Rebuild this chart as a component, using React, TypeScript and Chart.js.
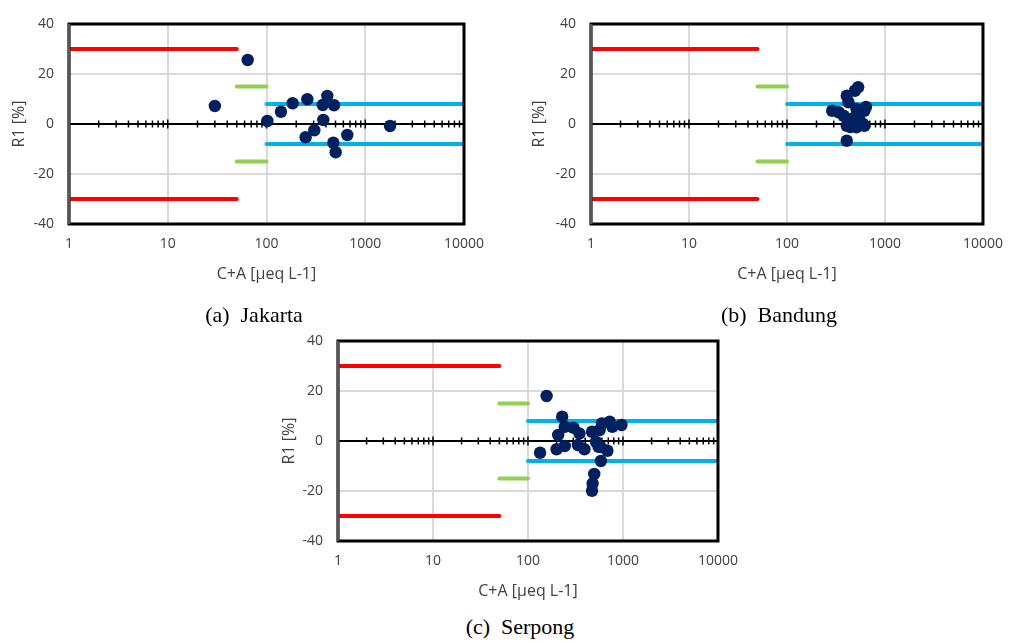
import React, { useEffect, useRef } from "react";
import { Chart, registerables } from "chart.js";

Chart.register(...registerables);

// ---- axis ticks ----
const X_TICKS = [1, 10, 100, 1000, 10000];
const Y_MIN = -40;
const Y_MAX = 40;
const Y_STEP = 20;

// ---- acceptance limits ----
const RED_X = [1, 50];
const RED_LIMIT = 30;
const GREEN_X = [50, 100];
const GREEN_LIMIT = 15;
const BLUE_X = [100, 10000];
const BLUE_LIMIT = 8;

// ---- data ----
const JAKARTA_X = [64.5, 30, 102, 140, 184, 259, 413, 371, 483, 376, 305, 249, 475, 502, 658, 1782];
const JAKARTA_Y = [25.6, 7.2, 1.2, 4.9, 8.3, 9.9, 11.2, 7.6, 7.5, 1.6, -2.5, -5.3, -7.5, -11.3, -4.4, -0.8];

const BANDUNG_X = [532, 493, 424, 407, 289, 337, 553, 616, 457, 407, 512, 617, 407, 493, 553, 512, 378, 640, 597, 443];
const BANDUNG_Y = [14.7, 13.3, 8.7, 11.3, 5.3, 4.7, 4.7, 5.3, 2, -0.7, -1.3, -0.7, -6.7, 2.7, 1.3, 6, 3.3, 6.8, 0, -1.2];

const SERPONG_X = [157, 229, 134, 200, 244, 208, 244, 302, 348, 335, 393, 472, 519, 553, 686, 585, 599, 724, 772, 964, 498, 479, 472, 568, 582];
const SERPONG_Y = [18, 9.7, -4.7, -3.3, -2, 2.4, 5.7, 5.3, 3, -1.6, -3.3, 3.7, -0.3, -2.3, -3.9, -8, 7, 7.7, 5.7, 6.4, -13.2, -17, -19.9, 4.4, -2.4];

const COLORS = {
  red: "#ff0000",
  green: "#92d050",
  blue: "#00b0f0",
  point: "#002060",
  grid: "#d9d9d9",
  text: "#404040",
};

const FONT = "'Open Sans', 'DejaVu Sans', sans-serif";

const excelAxisPlugin = {
  id: "excelAxis",
  beforeDatasetsDraw(chart: any) {
    const { ctx, chartArea, scales } = chart;
    const { left, right } = chartArea;
    const x = scales.x;
    const y = scales.y;
    const y0 = y.getPixelForValue(0);
    ctx.save();
    ctx.strokeStyle = "#000";
    ctx.lineWidth = 2;
    ctx.beginPath();
    ctx.moveTo(left, y0);
    ctx.lineTo(right, y0);
    ctx.stroke();
    ctx.lineWidth = 1.5;
    for (let d = 1; d <= 10000; d *= 10) {
      for (let k = 1; k <= 9; k++) {
        const v = k * d;
        if (v > 10000) break;
        const px = x.getPixelForValue(v);
        const h = k === 1 ? 4.5 : 3.5;
        ctx.beginPath();
        ctx.moveTo(px, y0 - h);
        ctx.lineTo(px, y0 + h);
        ctx.stroke();
      }
    }
    ctx.restore();
  },
  afterDraw(chart: any) {
    const { ctx, chartArea } = chart;
    const { left, right, top, bottom } = chartArea;
    ctx.save();
    ctx.strokeStyle = "#000";
    ctx.lineWidth = 3;
    ctx.strokeRect(left, top, right - left, bottom - top);
    ctx.strokeStyle = "#555";
    ctx.beginPath();
    ctx.moveTo(left, top);
    ctx.lineTo(left, bottom);
    ctx.stroke();
    ctx.restore();
  },
};

type PanelProps = {
  xs: number[];
  ys: number[];
  left: number;
  top: number;
  width: number;
  height: number;
  yAxisWidth: number;
  padTop: number;
  padRight: number;
};

function ScatterPanel(props: PanelProps) {
  const ref = useRef<HTMLCanvasElement | null>(null);
  const { xs, ys, left, top, width, height, yAxisWidth, padTop, padRight } = props;

  useEffect(() => {
    if (!ref.current) return;
    const pts = xs.map((x, i) => ({ x, y: ys[i] }));
    const seg = (xr: number[], yv: number) => xr.map((x) => ({ x, y: yv }));
    const lineDs = (data: any[], color: string) => ({
      data,
      showLine: true,
      borderColor: color,
      backgroundColor: color,
      borderWidth: 4,
      borderCapStyle: "round",
      pointRadius: 0,
      pointHoverRadius: 0,
      fill: false,
    });

    const chart = new Chart(ref.current, {
      type: "scatter",
      data: {
        datasets: [
          {
            data: pts,
            backgroundColor: COLORS.point,
            borderColor: COLORS.point,
            borderWidth: 0,
            pointRadius: 6.2,
            showLine: false,
          } as any,
          lineDs(seg(BLUE_X, BLUE_LIMIT), COLORS.blue),
          lineDs(seg(BLUE_X, -BLUE_LIMIT), COLORS.blue),
          lineDs(seg(GREEN_X, GREEN_LIMIT), COLORS.green),
          lineDs(seg(GREEN_X, -GREEN_LIMIT), COLORS.green),
          lineDs(seg(RED_X, RED_LIMIT), COLORS.red),
          lineDs(seg(RED_X, -RED_LIMIT), COLORS.red),
        ],
      },
      options: {
        responsive: false,
        animation: false,
        devicePixelRatio: 1,
        layout: { padding: { top: padTop, right: padRight, left: 0, bottom: 0 } },
        plugins: { legend: { display: false }, tooltip: { enabled: false } },
        scales: {
          x: {
            type: "logarithmic",
            min: 1,
            max: 10000,
            afterBuildTicks: (scale: any) => {
              scale.ticks = X_TICKS.map((v) => ({ value: v }));
            },
            afterFit: (scale: any) => {
              scale.height = 72;
            },
            ticks: {
              autoSkip: false,
              maxRotation: 0,
              padding: 12,
              color: COLORS.text,
              font: { family: FONT, size: 14 },
              callback: (v: any) => String(v),
            },
            grid: { color: COLORS.grid, lineWidth: 2, drawTicks: false },
            border: { display: false },
            title: {
              display: true,
              text: "C+A [μeq L-1]",
              color: COLORS.text,
              font: { family: FONT, size: 16 },
              padding: { top: 0, bottom: 12 },
            },
          },
          y: {
            type: "linear",
            min: Y_MIN,
            max: Y_MAX,
            afterFit: (scale: any) => {
              scale.width = yAxisWidth;
            },
            ticks: {
              stepSize: Y_STEP,
              padding: 15,
              color: COLORS.text,
              font: { family: FONT, size: 14 },
              callback: (v: any) => String(v),
            },
            grid: { color: COLORS.grid, lineWidth: 2, drawTicks: false },
            border: { display: false },
            title: {
              display: true,
              text: "R1 [%]",
              color: COLORS.text,
              font: { family: FONT, size: 16 },
              padding: { top: 10, bottom: 0 },
            },
          },
        },
      } as any,
      plugins: [excelAxisPlugin],
    });
    return () => chart.destroy();
  }, []);

  return (
    <canvas
      ref={ref}
      width={width}
      height={height}
      style={{ position: "absolute", left, top, width, height, display: "block" }}
    />
  );
}

function Caption({ text, cx, top }: { text: string; cx: number; top: number }) {
  return (
    <div
      style={{
        position: "absolute",
        left: cx,
        top,
        transform: "translateX(-50%)",
        fontFamily: "'Liberation Serif', 'Times New Roman', serif",
        fontSize: 22,
        lineHeight: "26px",
        whiteSpace: "pre",
        color: "#000",
        zIndex: 2,
      }}
    >
      {text}
    </div>
  );
}

export default function App() {
  return (
    <div
      style={{
        position: "fixed",
        left: 0,
        top: 0,
        width: 1015,
        height: 641,
        background: "#fff",
        overflow: "hidden",
      }}
    >
      <ScatterPanel xs={JAKARTA_X} ys={JAKARTA_Y} left={0} top={0} width={500} height={296} yAxisWidth={69} padTop={24} padRight={36} />
      <ScatterPanel xs={BANDUNG_X} ys={BANDUNG_Y} left={520} top={0} width={495} height={296} yAxisWidth={71} padTop={24} padRight={22} />
      <ScatterPanel xs={SERPONG_X} ys={SERPONG_Y} left={270} top={317} width={480} height={296} yAxisWidth={68} padTop={24} padRight={26} />
      <Caption text="(a)  Jakarta" cx={254} top={302} />
      <Caption text="(b)  Bandung" cx={779} top={302} />
      <Caption text="(c)  Serpong" cx={520} top={614} />
    </div>
  );
}
